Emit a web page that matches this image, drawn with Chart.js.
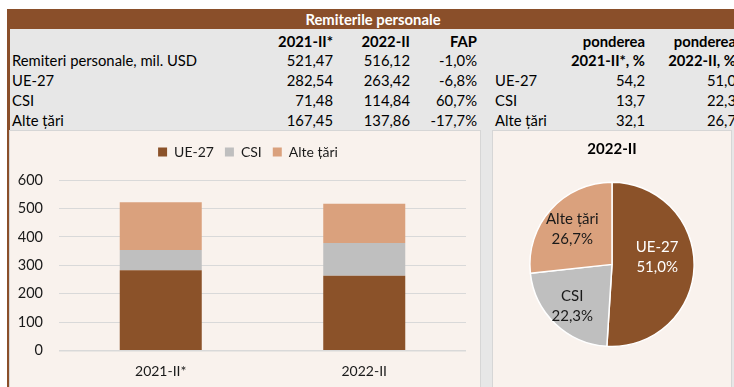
<!DOCTYPE html>
<html>
<head>
<meta charset="utf-8">
<script src="https://cdn.jsdelivr.net/npm/chart.js@4.4.1/dist/chart.umd.min.js"></script>
<style>
  html, body { margin: 0; padding: 0; background: #fff; }
  #page { position: relative; width: 734px; height: 387px; overflow: hidden;
          font-family: Lato, "Open Sans", sans-serif; color: #000; }
  #sheet { position: absolute; left: 9px; top: 29px; width: 725px; height: 358px; background: #e7e7e7; }
  #band { position: absolute; left: 7px; top: 9px; width: 732px; height: 20px; background: #8a4f2a;
          color: #fff; font-weight: bold; font-size: 14.8px; line-height: 20px; text-align: center; }
  #rule { position: absolute; left: 7px; top: 9px; width: 2.5px; height: 378px; background: #8a4f2a; }
  .cell { position: absolute; font-size: 14.8px; line-height: 20px; white-space: nowrap; }
  .r { text-align: right; width: 200px; }
  .b { font-weight: bold; }
  .panel { position: absolute; background: #f9f2ed; border: 1px solid #d6d6d6; box-sizing: border-box; }
  canvas { position: absolute; }
</style>
</head>
<body>
<div id="page">
  <div id="sheet"></div>
  <div id="band">Remiterile personale</div>
  <div id="rule"></div>
  <div id="table"></div>
  <div class="panel" style="left:9px;top:130px;width:472px;height:262px;"></div>
  <div class="panel" style="left:492px;top:130px;width:240px;height:262px;"></div>
  <canvas id="bars" width="470" height="256" style="left:10px;top:131px;"></canvas>
  <canvas id="pie" width="238" height="255" style="left:493px;top:131px;"></canvas>
</div>
<script>
// Personal remittances, mil. USD, by region
const categories = ['2021-II*', '2022-II'];
const regions = ['UE-27', 'CSI', 'Alte țări'];
const ue27 = [282.54, 263.42];
const csi = [71.48, 114.84];
const alteTari = [167.45, 137.86];
const totals = [521.47, 516.12];
const fapTotal = -1.0;
const fapRegions = [-6.8, 60.7, -17.7];
const share2021 = [54.2, 13.7, 32.1];
const share2022 = [51.0, 22.3, 26.7];
const yTicks = [0, 100, 200, 300, 400, 500, 600];

const palette = ['#8b5229', '#bfbfbf', '#daa17d'];
const FONT = 'Lato, "Open Sans", sans-serif';

const fmt2 = v => v.toFixed(2).replace('.', ',');
const fmt1 = v => v.toFixed(1).replace('.', ',');

// ---- summary table ----
const rowY = [41, 60, 80, 100, 120];
const table = document.getElementById('table');
function cell(text, x, row, opts) {
  const d = document.createElement('div');
  d.className = 'cell' + (opts && opts.right ? ' r' : '') + (opts && opts.bold ? ' b' : '');
  d.textContent = text;
  d.style.top = (rowY[row] - 10) + 'px';
  d.style.left = (opts && opts.right ? x - 200 : x) + 'px';
  table.appendChild(d);
}
const colA = 333, colB = 410, colC = 477, colLabel2 = 495, colD = 645, colE = 736;
cell(categories[0], colA, 0, {right: true, bold: true});
cell(categories[1], colB, 0, {right: true, bold: true});
cell('FAP', colC, 0, {right: true, bold: true});
cell('ponderea', colD, 0, {right: true, bold: true});
cell('ponderea', colE, 0, {right: true, bold: true});
cell(categories[0] + ', %', colD, 1, {right: true, bold: true});
cell(categories[1] + ', %', colE, 1, {right: true, bold: true});
cell('Remiteri personale, mil. USD', 12, 1);
cell(fmt2(totals[0]), colA, 1, {right: true});
cell(fmt2(totals[1]), colB, 1, {right: true});
cell(fmt1(fapTotal) + '%', colC, 1, {right: true});
const series = [ue27, csi, alteTari];
regions.forEach((name, i) => {
  const row = i + 2;
  cell(name, 12, row);
  cell(fmt2(series[i][0]), colA, row, {right: true});
  cell(fmt2(series[i][1]), colB, row, {right: true});
  cell(fmt1(fapRegions[i]) + '%', colC, row, {right: true});
  cell(name, colLabel2, row);
  cell(fmt1(share2021[i]), colD, row, {right: true});
  cell(fmt1(share2022[i]), colE, row, {right: true});
});

// ---- stacked bar chart ----
// extra room under the legend, and legend centred on the whole panel
const legendPlacement = {
  id: 'legendPlacement',
  beforeInit(chart) {
    const fit = chart.legend.fit;
    chart.legend.fit = function () { fit.call(this); this.height += 11; };
  },
  afterLayout(chart) {
    chart.legend.left += 10;
    chart.legend.right += 10;
  }
};

new Chart(document.getElementById('bars'), {
  type: 'bar',
  data: {
    labels: categories,
    datasets: [
      { label: regions[0], data: ue27, backgroundColor: palette[0] },
      { label: regions[1], data: csi, backgroundColor: palette[1] },
      { label: regions[2], data: alteTari, backgroundColor: palette[2] }
    ]
  },
  options: {
    responsive: false,
    animation: false,
    devicePixelRatio: 1,
    datasets: { bar: { categoryPercentage: 1, barPercentage: 0.403 } },
    layout: { padding: { left: 0, right: 14, top: 3, bottom: 0 } },
    plugins: {
      legend: {
        position: 'top',
        labels: { boxWidth: 9, boxHeight: 9, padding: 11, color: '#1a1a1a', font: { size: 14, family: FONT } }
      },
      tooltip: { enabled: false }
    },
    scales: {
      x: {
        stacked: true,
        grid: { display: false, drawTicks: false },
        border: { display: false },
        ticks: { padding: 12, color: '#1a1a1a', font: { size: 14, family: FONT } },
        afterFit: s => { s.height = 36.3; }
      },
      y: {
        stacked: true,
        min: yTicks[0],
        max: yTicks[yTicks.length - 1],
        afterBuildTicks: s => { s.ticks = yTicks.map(v => ({ value: v })); },
        grid: {
          color: '#d9d9d9',
          lineWidth: ctx => (ctx.tick && ctx.tick.value === 0 ? 1.5 : 1),
          drawTicks: false
        },
        border: { display: false },
        ticks: { padding: 16, color: '#1a1a1a', font: { size: 14.5, family: FONT } },
        afterFit: s => { s.width = 49; }
      }
    }
  },
  plugins: [legendPlacement]
});

// ---- pie chart, 2022-II shares ----
const labelRadius = [0.55, 0.70, 0.65];
const labelLift = [9, 0, 0];
const sliceLabels = {
  id: 'sliceLabels',
  afterDatasetsDraw(chart) {
    const ctx = chart.ctx;
    chart.getDatasetMeta(0).data.forEach((arc, i) => {
      const p = arc.getProps(['x', 'y', 'startAngle', 'endAngle', 'outerRadius'], true);
      const mid = (p.startAngle + p.endAngle) / 2;
      const r = p.outerRadius * labelRadius[i];
      const cx = p.x + Math.cos(mid) * r;
      const cy = p.y + Math.sin(mid) * r - labelLift[i];
      ctx.save();
      ctx.font = '15px ' + FONT;
      ctx.textAlign = 'center';
      ctx.textBaseline = 'middle';
      ctx.fillStyle = i === 0 ? '#ffffff' : '#1a1a1a';
      ctx.fillText(regions[i], cx, cy - 10);
      ctx.fillText(fmt1(share2022[i]) + '%', cx, cy + 10);
      ctx.restore();
    });
  }
};

new Chart(document.getElementById('pie'), {
  type: 'pie',
  data: {
    labels: regions,
    datasets: [{ data: share2022, backgroundColor: palette, borderColor: '#ffffff', borderWidth: 1.5 }]
  },
  options: {
    responsive: false,
    animation: false,
    devicePixelRatio: 1,
    layout: { padding: { top: 0, bottom: 38.75, left: 0, right: 0 } },
    plugins: {
      legend: { display: false },
      tooltip: { enabled: false },
      title: {
        display: true,
        text: categories[1],
        color: '#000',
        font: { size: 15, weight: 'bold', family: FONT },
        padding: { top: 9, bottom: 23.5 }
      }
    }
  },
  plugins: [sliceLabels]
});
</script>
</body>
</html>
